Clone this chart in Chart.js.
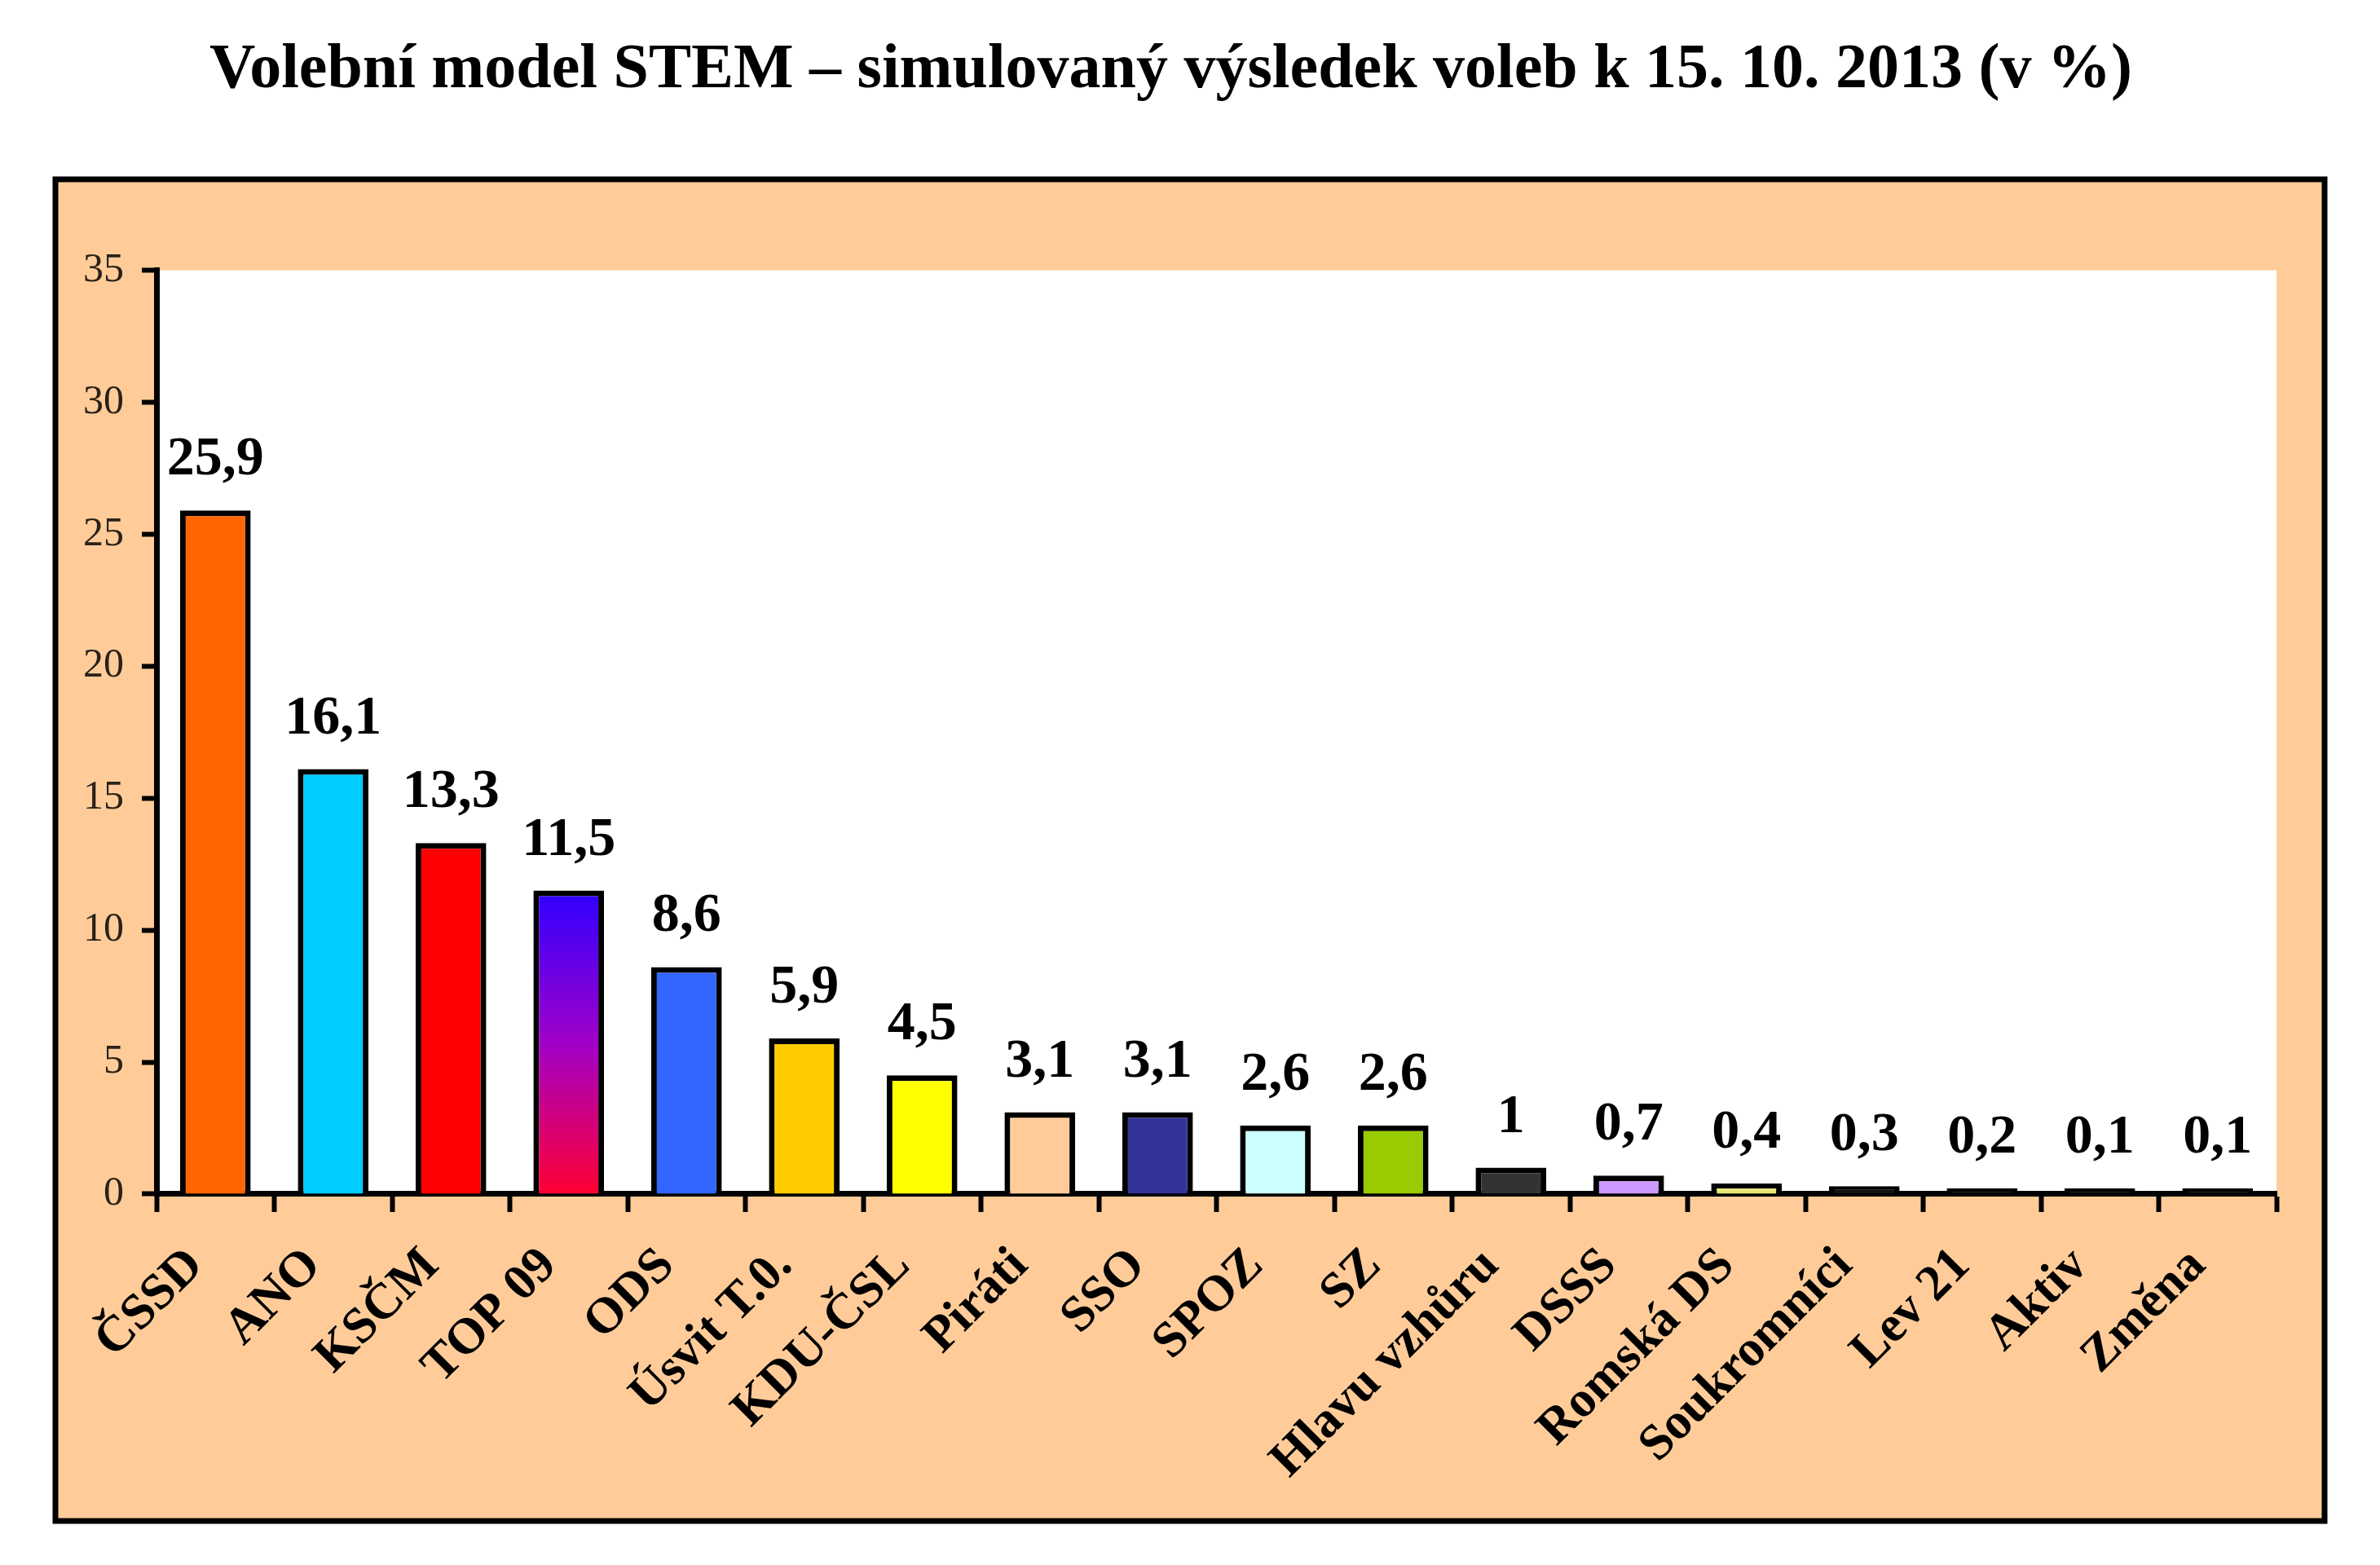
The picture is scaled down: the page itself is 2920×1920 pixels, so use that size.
<!DOCTYPE html>
<html>
<head>
<meta charset="utf-8">
<script src="https://cdn.jsdelivr.net/npm/chart.js@4.4.1/dist/chart.umd.min.js"></script>
<style>
  html,body{margin:0;padding:0;background:#fff;}
  #wrap{width:2920px;height:1920px;}
</style>
</head>
<body>
<div id="wrap"><canvas id="chart" width="2920" height="1920"></canvas></div>
<script>
const titleText = "Volební model STEM – simulovaný výsledek voleb k 15. 10. 2013 (v %)";
const parties = ["ČSSD","ANO","KSČM","TOP 09","ODS","Úsvit T.0.","KDU-ČSL","Piráti","SSO","SPOZ","SZ","Hlavu vzhůru","DSSS","Romská DS","Soukromníci","Lev 21","Aktiv","Změna"];
const results = [25.9,16.1,13.3,11.5,8.6,5.9,4.5,3.1,3.1,2.6,2.6,1,0.7,0.4,0.3,0.2,0.1,0.1];
const barColors = ["#FF6600","#00CCFF","#FF0000",null,"#3366FF","#FFCC00","#FFFF00","#FFCC99","#333399","#CCFFFF","#99CC00","#333333","#CC99FF","#E8E878","#111111","#111111","#111111","#111111"];
const yMin = 0, yMax = 35, yStep = 5;

const serif = "'Liberation Serif', 'Times New Roman', serif";
const fmt = v => String(v).replace(".", ",");

// tan frame with black border, white plot area
const framePlugin = {
  id:"frame",
  beforeDraw(chart){
    const c = chart.ctx, a = chart.chartArea;
    c.save();
    c.fillStyle = "#fff";
    c.fillRect(0,0,chart.width,chart.height);
    c.fillStyle = "#FFCC99";
    c.fillRect(68,220,2784,1646);
    c.lineWidth = 7;
    c.strokeStyle = "#000";
    c.strokeRect(68,220,2784,1646);
    c.fillStyle = "#fff";
    c.fillRect(a.left,a.top,a.right-a.left,a.bottom-a.top);
    c.restore();
  }
};

// value labels above bars
const valuePlugin = {
  id:"values",
  afterDatasetsDraw(chart){
    const c = chart.ctx;
    const meta = chart.getDatasetMeta(0);
    c.save();
    c.font = "bold 68px " + serif;
    c.fillStyle = "#000";
    c.textAlign = "center";
    c.textBaseline = "alphabetic";
    meta.data.forEach((bar,i) => {
      c.fillText(fmt(results[i]), bar.x, bar.y - 44);
    });
    c.restore();
  }
};

function barFill(ctx){
  const i = ctx.dataIndex;
  if(barColors[i]) return barColors[i];
  const ch = ctx.chart, y = ch.scales.y;
  if(!y || !ch.chartArea) return "#9900CC";
  const top = y.getPixelForValue(results[i]);
  const bottom = y.getPixelForValue(0);
  const g = ch.ctx.createLinearGradient(0,top,0,bottom);
  g.addColorStop(0,"#2F00FF");
  g.addColorStop(0.5,"#A000C8");
  g.addColorStop(1,"#FF0033");
  return g;
}

new Chart(document.getElementById("chart"), {
  type:"bar",
  data:{
    labels:parties,
    datasets:[{
      data:results,
      backgroundColor:barFill,
      borderColor:"#000",
      borderWidth:7,
      minBarLength:7,
      categoryPercentage:1,
      barPercentage:0.6
    }]
  },
  options:{
    responsive:false,
    animation:false,
    layout:{padding:{left:80,right:127,top:0,bottom:61}},
    plugins:{
      legend:{display:false},
      tooltip:{enabled:false},
      title:{
        display:true,
        text:titleText,
        color:"#000",
        font:{family:serif,size:78,weight:"bold"},
        padding:{top:40,bottom:198}
      }
    },
    scales:{
      x:{
        border:{display:true,color:"#000",width:7},
        grid:{display:true,drawOnChartArea:false,drawTicks:true,tickLength:22,tickWidth:6,tickColor:"#000",color:"#000"},
        ticks:{color:"#000",font:{family:serif,size:62,weight:"bold"},minRotation:45,maxRotation:45,padding:30,labelOffset:-24,autoSkip:false}
      },
      y:{
        min:yMin,max:yMax,
        border:{display:true,color:"#000",width:7},
        grid:{display:true,drawOnChartArea:false,drawTicks:true,tickLength:18,tickWidth:6,tickColor:"#000",color:"#000"},
        ticks:{stepSize:yStep,color:"#2a2218",font:{family:serif,size:50},padding:22}
      }
    }
  },
  plugins:[framePlugin,valuePlugin]
});
</script>
</body>
</html>
